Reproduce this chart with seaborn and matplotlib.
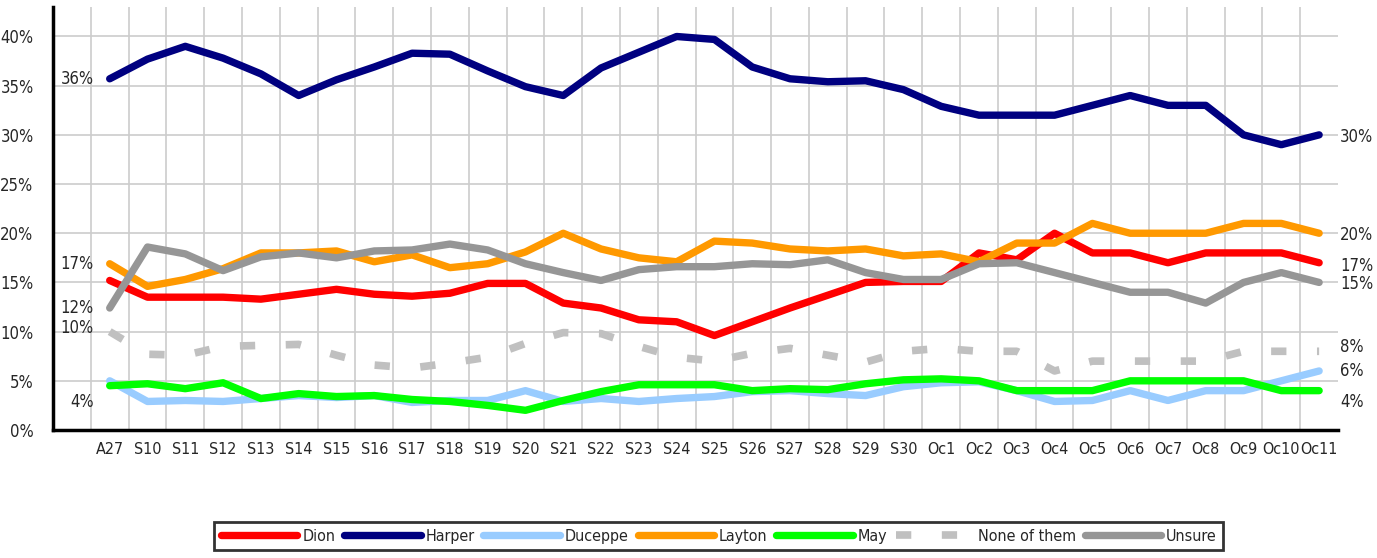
import seaborn as sns
import matplotlib.pyplot as plt
import pandas as pd
from matplotlib.ticker import FixedLocator, FuncFormatter

dates = ['A27', 'S10', 'S11', 'S12', 'S13', 'S14', 'S15', 'S16', 'S17', 'S18', 'S19',
         'S20', 'S21', 'S22', 'S23', 'S24', 'S25', 'S26', 'S27', 'S28', 'S29', 'S30',
         'Oc1', 'Oc2', 'Oc3', 'Oc4', 'Oc5', 'Oc6', 'Oc7', 'Oc8', 'Oc9', 'Oc10', 'Oc11']

dion = [15.2, 13.5, 13.5, 13.5, 13.3, 13.8, 14.3, 13.8, 13.6, 13.9, 14.9,
        14.9, 12.9, 12.4, 11.2, 11.0, 9.6, 11.0, 12.4, 13.7, 15.0, 15.1,
        15.1, 18.0, 17.3, 20.0, 18.0, 18.0, 17.0, 18.0, 18.0, 18.0, 17.0]
harper = [35.7, 37.7, 39.0, 37.8, 36.2, 34.0, 35.6, 36.9, 38.3, 38.2, 36.5,
          34.9, 34.0, 36.8, 38.4, 40.0, 39.7, 36.9, 35.7, 35.4, 35.5, 34.6,
          32.9, 32.0, 32.0, 32.0, 33.0, 34.0, 33.0, 33.0, 30.0, 29.0, 30.0]
duceppe = [5.0, 2.9, 3.0, 2.9, 3.2, 3.5, 3.3, 3.5, 2.8, 3.0, 3.0,
           4.0, 2.9, 3.2, 2.9, 3.2, 3.4, 3.9, 4.0, 3.7, 3.5, 4.4,
           4.8, 4.9, 4.0, 2.9, 3.0, 4.0, 3.0, 4.0, 4.0, 5.0, 6.0]
layton = [16.9, 14.6, 15.3, 16.4, 18.0, 18.0, 18.2, 17.1, 17.8, 16.5, 16.9,
          18.1, 20.0, 18.4, 17.5, 17.1, 19.2, 19.0, 18.4, 18.2, 18.4, 17.7,
          17.9, 17.1, 19.0, 19.0, 21.0, 20.0, 20.0, 20.0, 21.0, 21.0, 20.0]
may = [4.5, 4.7, 4.2, 4.8, 3.2, 3.7, 3.4, 3.5, 3.1, 2.9, 2.5,
       2.0, 3.0, 3.9, 4.6, 4.6, 4.6, 4.0, 4.2, 4.1, 4.7, 5.1,
       5.2, 5.0, 4.0, 4.0, 4.0, 5.0, 5.0, 5.0, 5.0, 4.0, 4.0]
none_of_them = [10.0, 7.7, 7.6, 8.5, 8.6, 8.7, 7.6, 6.6, 6.3, 6.8, 7.4,
                8.8, 9.9, 9.8, 8.5, 7.4, 7.0, 7.8, 8.3, 7.6, 6.9, 8.0,
                8.3, 8.0, 8.0, 6.0, 7.0, 7.0, 7.0, 7.0, 8.0, 8.0, 8.0]
unsure = [12.4, 18.6, 17.9, 16.2, 17.6, 18.0, 17.5, 18.2, 18.3, 18.9, 18.3,
          16.9, 16.0, 15.2, 16.3, 16.6, 16.6, 16.9, 16.8, 17.3, 16.0, 15.3,
          15.3, 16.9, 17.0, 16.0, 15.0, 14.0, 14.0, 12.9, 15.0, 16.0, 15.0]

series_names = ['Dion', 'Harper', 'Duceppe', 'Layton', 'May', 'None of them', 'Unsure']
series_values = [dion, harper, duceppe, layton, may, none_of_them, unsure]
colors = ['#FF0000', '#000080', '#99CCFF', '#FF9900', '#00FF00', '#C0C0C0', '#969696']

# value labels at the start / end of some lines
left_labels = [('Harper', '36%', 0.0), ('Layton', '17%', 0.0), ('Unsure', '12%', 0.0),
               ('None of them', '10%', 0.4), ('May', '4%', -1.7)]
right_labels = [('Harper', '30%', -0.2), ('Layton', '20%', -0.2), ('Dion', '17%', -0.3),
                ('Unsure', '15%', -0.2), ('None of them', '8%', 0.4),
                ('Duceppe', '6%', 0.0), ('May', '4%', -1.2)]

sns.set_style('white')
plt.rcParams['font.family'] = ['DejaVu Sans']
plt.rcParams['font.stretch'] = 'condensed'

df = pd.DataFrame({'x': range(len(dates))})
for name, vals in zip(series_names, series_values):
    df[name] = vals

fig = plt.figure(figsize=(13.77, 5.58), dpi=100)
ax = fig.add_axes([0.0385, 0.2294, 0.9332, 0.7581])

for name, color in zip(series_names, colors):
    if name == 'None of them':
        sns.lineplot(data=df, x='x', y=name, ax=ax, color=color, linewidth=5.5,
                     label=name, linestyle=(0, (2, 4)), dash_capstyle='butt')
    else:
        sns.lineplot(data=df, x='x', y=name, ax=ax, color=color, linewidth=5.3,
                     label=name, solid_capstyle='round', solid_joinstyle='round')

ax.set_xlim(-1.5, len(dates) - 0.5)
ax.set_ylim(0, 43)
ax.set_xticks(range(len(dates)))
ax.set_xticklabels(dates, fontsize=11.5)
ax.xaxis.set_minor_locator(FixedLocator([i - 0.5 for i in range(len(dates))]))
ax.set_yticks(range(0, 45, 5))
ax.yaxis.set_major_formatter(FuncFormatter(lambda v, p: f'{int(v)}%'))
ax.tick_params(axis='y', labelsize=12, length=0, pad=14)
ax.tick_params(axis='x', which='both', length=0, pad=9)
ax.grid(axis='y', which='major', color='#cccccc', linewidth=1.2)
ax.grid(axis='x', which='minor', color='#cccccc', linewidth=1.2)
ax.set_axisbelow(True)
ax.set_xlabel('')
ax.set_ylabel('')
for side in ['top', 'right']:
    ax.spines[side].set_visible(False)
for side in ['left', 'bottom']:
    ax.spines[side].set_color('black')
    ax.spines[side].set_linewidth(2.5)

for name, text, off in left_labels:
    ax.text(-0.42, df[name].iloc[0] + off, text, ha='right', va='center', fontsize=12)
for name, text, off in right_labels:
    ax.text(len(dates) - 0.45, df[name].iloc[-1] + off, text, ha='left', va='center',
            fontsize=12, clip_on=False)

handles, labels = ax.get_legend_handles_labels()
ax.get_legend().remove()
leg = fig.legend(handles, labels, loc='center', bbox_to_anchor=(0.522, 0.039), ncol=7,
                 fontsize=11.5, handlelength=4.8, handletextpad=0.3, columnspacing=0.55,
                 frameon=True, fancybox=False, borderpad=0.4)
leg.get_frame().set_edgecolor('black')
leg.get_frame().set_linewidth(2)

fig.savefig('out.png', dpi=100)
